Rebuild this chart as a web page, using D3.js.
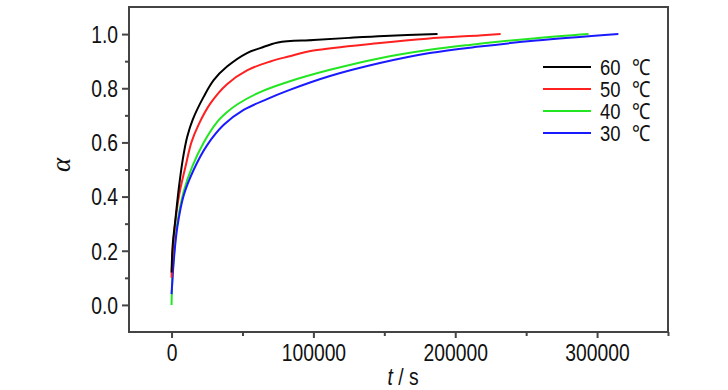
<!DOCTYPE html>
<html>
<head>
<meta charset="utf-8">
<script src="https://cdn.jsdelivr.net/npm/d3@7"></script>
<style>
  html, body { margin: 0; padding: 0; background: #fff; }
  svg { display: block; }
  .lbl { font-family: "Liberation Sans", Arial, sans-serif; font-size: 23px; fill: #111; }
</style>
</head>
<body>
<svg id="chart" width="728" height="390"></svg>
<script>
// ---- data ----
const seriesNames = ["60", "50", "40", "30"];
const unitLabel = "℃";
const seriesColors = ["#000000", "#ff2020", "#22e622", "#1a1aff"];

const t60 = [0, 800, 2800, 5100, 8000, 11000, 15000, 22700, 29700, 39100, 53200, 62500, 75000, 100000, 125000, 150000, 187500];
const a60 = [0.12, 0.22, 0.32, 0.43, 0.54, 0.62, 0.685, 0.769, 0.83, 0.88, 0.93, 0.948, 0.969, 0.978, 0.986, 0.993, 1.0];

const t50 = [0, 800, 2500, 5500, 9800, 14000, 19000, 27400, 39100, 53200, 69600, 82400, 100000, 146900, 180000, 217100, 232000];
const a50 = [0.10, 0.20, 0.30, 0.41, 0.51, 0.60, 0.665, 0.744, 0.815, 0.866, 0.899, 0.917, 0.939, 0.967, 0.983, 0.995, 1.0];

const t40 = [0, 300, 1600, 4000, 8600, 14500, 22700, 32100, 39000, 46200, 62500, 82400, 111700, 146900, 182000, 210000, 257000, 294000];
const a40 = [0.0, 0.06, 0.18, 0.30, 0.42, 0.51, 0.60, 0.675, 0.711, 0.740, 0.786, 0.824, 0.868, 0.911, 0.942, 0.960, 0.985, 1.0];

const t30 = [0, 1600, 4000, 8600, 15700, 25100, 36800, 50800, 67300, 82400, 111700, 146900, 182000, 217100, 257000, 315000];
const a30 = [0.04, 0.165, 0.285, 0.405, 0.50, 0.59, 0.665, 0.72, 0.76, 0.792, 0.845, 0.893, 0.930, 0.954, 0.976, 1.0];

const xTicks = [0, 100000, 200000, 300000];
const xMinorTicks = [50000, 150000, 250000, 350000];
const yTicks = [0.0, 0.2, 0.4, 0.6, 0.8, 1.0];
const yMinorTicks = [0.1, 0.3, 0.5, 0.7, 0.9];

// ---- layout ----
const svg = d3.select("#chart");
const L = 129, T = 7, R = 668, B = 332;
const x = d3.scaleLinear().domain([-30000, 350000]).range([L, R]);
const y = d3.scaleLinear().domain([-0.1, 1.1]).range([B, T]);
const axisColor = "#444";
const SX = 0.84; // condensed look

const series = [
  { name: seriesNames[0], color: seriesColors[0], t: t60, a: a60 },
  { name: seriesNames[1], color: seriesColors[1], t: t50, a: a50 },
  { name: seriesNames[2], color: seriesColors[2], t: t40, a: a40 },
  { name: seriesNames[3], color: seriesColors[3], t: t30, a: a30 }
];

const line = d3.line()
  .x(d => x(d[0])).y(d => y(d[1]))
  .curve(d3.curveCatmullRom.alpha(0.5));

const drawOrder = [2, 3, 1, 0];
const g = svg.append("g");
drawOrder.forEach(i => {
  const s = series[i];
  g.append("path")
    .datum(s.t.map((tv, k) => [tv, s.a[k]]))
    .attr("fill", "none")
    .attr("stroke", s.color)
    .attr("stroke-width", 2)
    .attr("stroke-linejoin", "round")
    .attr("d", line);
});

// frame
svg.append("rect")
  .attr("x", L).attr("y", T).attr("width", R - L).attr("height", B - T)
  .attr("fill", "none").attr("stroke", axisColor).attr("stroke-width", 2);

// axes
const xAxis = svg.append("g").attr("transform", `translate(0,${B})`)
  .call(d3.axisBottom(x).tickValues(xTicks).tickFormat(d3.format("d")).tickSize(6).tickSizeOuter(0).tickPadding(6));
const xMinor = svg.append("g").attr("transform", `translate(0,${B})`)
  .call(d3.axisBottom(x).tickValues(xMinorTicks).tickFormat("").tickSize(4).tickSizeOuter(0));
const yAxis = svg.append("g").attr("transform", `translate(${L},0)`)
  .call(d3.axisLeft(y).tickValues(yTicks).tickFormat(d3.format(".1f")).tickSize(7).tickSizeOuter(0).tickPadding(4));
const yMinor = svg.append("g").attr("transform", `translate(${L},0)`)
  .call(d3.axisLeft(y).tickValues(yMinorTicks).tickFormat("").tickSize(4).tickSizeOuter(0));

[xAxis, xMinor, yAxis, yMinor].forEach(a => {
  a.select(".domain").remove();
  a.selectAll(".tick line").attr("stroke", axisColor).attr("stroke-width", 2);
  a.selectAll(".tick text").attr("class", "lbl").attr("fill", "#111");
});
yAxis.selectAll(".tick text")
  .attr("x", 0).attr("dy", "0.36em")
  .attr("transform", `translate(-11,0) scale(${SX},1)`);
xAxis.selectAll(".tick text")
  .attr("dy", "0.75em")
  .attr("transform", `scale(${SX},1)`);

// axis titles
svg.append("text")
  .attr("transform", "translate(70,165) rotate(-90)")
  .attr("text-anchor", "middle")
  .style("font-family", "'Liberation Serif', 'DejaVu Serif', serif")
  .style("font-style", "italic")
  .style("font-size", "27px")
  .attr("fill", "#111")
  .text("α");

const xt = svg.append("text").attr("class", "lbl")
  .attr("transform", `translate(403,385) scale(${SX},1)`)
  .attr("text-anchor", "middle");
xt.append("tspan").style("font-style", "italic").text("t");
xt.append("tspan").text(" / s");

// legend
const lg = svg.append("g");
series.forEach((s, i) => {
  const yy = 67 + i * 22;
  lg.append("line").attr("x1", 543).attr("x2", 591).attr("y1", yy).attr("y2", yy)
    .attr("stroke", s.color).attr("stroke-width", 2);
  const tx = lg.append("text").attr("class", "lbl")
    .attr("transform", `translate(600,${yy + 8}) scale(${SX},1)`)
    .style("font-size", "22px");
  tx.append("tspan").attr("x", 0).text(s.name);
  tx.append("tspan").attr("x", 38).text(unitLabel);
});
</script>
</body>
</html>
